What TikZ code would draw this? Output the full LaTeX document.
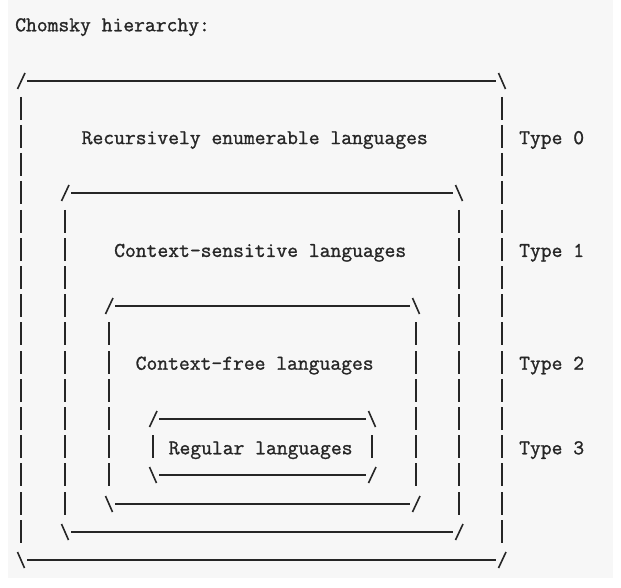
\documentclass[tikz,border=0pt]{standalone}
\usepackage{fontspec}
\setmonofont{Latin Modern Mono}[FakeBold=1.2]
\usepackage{tikz}
\usetikzlibrary{calc}
\definecolor{ink}{HTML}{262626}
\definecolor{paper}{HTML}{F7F7F7}
\tikzset{
  artline/.style={draw=ink, line width=2pt},
  artslash/.style={draw=ink, line width=1.6pt},
  artbar/.style={draw=ink, line width=2pt},
  mono/.style={font=\ttfamily\fontsize{21}{25}\selectfont, text=ink, inner sep=0pt, anchor=base west}
}
% ASCII-style frame: left x, right x, top row, bottom row
\newcommand{\artframe}[4]{%
  \pgfmathsetmacro{\yt}{round(80.7+(#3-3)*28.2)}%
  \pgfmathsetmacro{\yb}{round(80.7+(#4-3)*28.2)}%
  \pgfmathsetmacro{\la}{#1+6}%
  \pgfmathsetmacro{\ra}{#2-6}%
  \coordinate (tl) at (#1,\yt);
  \coordinate (tr) at (#2,\yt);
  \coordinate (bl) at (#1,\yb);
  \coordinate (br) at (#2,\yb);
  \draw[artline] (\la,\yt) -- (\ra,\yt);
  \draw[artline] (\la,\yb) -- (\ra,\yb);
  \draw[artslash] ($(tl)+(-3.5,8)$) -- ($(tl)+(4,-8)$);
  \draw[artslash] ($(tr)+(-3.5,-8)$) -- ($(tr)+(3.5,8)$);
  \draw[artslash] ($(bl)+(-3.5,-8)$) -- ($(bl)+(3.5,8)$);
  \draw[artslash] ($(br)+(-3.5,8)$) -- ($(br)+(4,-8)$);
  \pgfmathtruncatemacro{\ra}{#3+1}%
  \pgfmathtruncatemacro{\rb}{#4-1}%
  \foreach \r in {\ra,...,\rb}{%
    \pgfmathsetmacro{\yc}{round(80.7+(\r-3)*28.2)}%
    \draw[artbar] (#1,\yc-12) -- (#1,\yc+11);
    \draw[artbar] (#2,\yc-12) -- (#2,\yc+11);
  }%
}
\begin{document}
\begin{tikzpicture}[x=1pt,y=-1pt]
  \useasboundingbox (0,0) rectangle (621,588);
  \fill[white] (0,0) rectangle (621,588);
  \fill[paper] (8,0) rectangle (613,578);

  \node[mono] (title) at (15,31.3) {Chomsky hierarchy:};

  \artframe{21}{502}{3}{20}
  \artframe{65}{459}{7}{19}
  \artframe{109}{416}{11}{18}
  \artframe{153}{372}{15}{17}

  \node[mono] (re) at (81.5,144.1) {Recursively enumerable languages};
  \node[mono] (cs) at (114,256.9) {Context-sensitive languages};
  \node[mono] (cf) at (135.5,369.7) {Context-free languages};
  \node[mono] (rg) at (168.5,454.3) {Regular languages};

  \node[mono] (t0) at (519,144.1) {Type 0};
  \node[mono] (t1) at (519,256.9) {Type 1};
  \node[mono] (t2) at (519,369.7) {Type 2};
  \node[mono] (t3) at (519,454.3) {Type 3};
\end{tikzpicture}
\end{document}
